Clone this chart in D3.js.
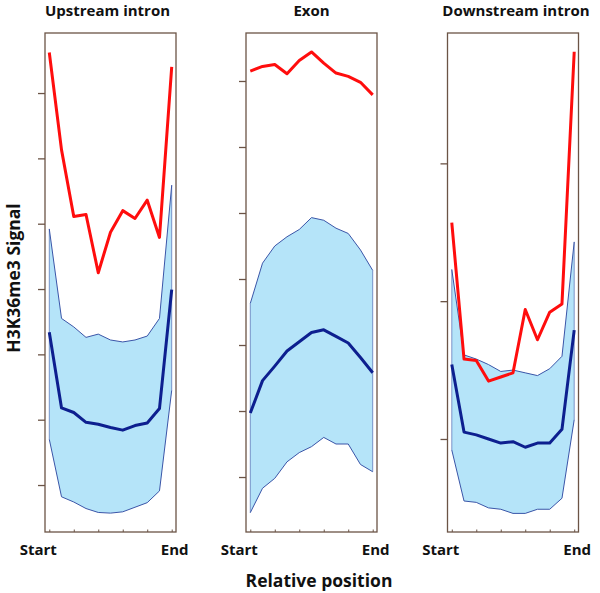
<!DOCTYPE html>
<html>
<head>
<meta charset="utf-8">
<script src="https://cdn.jsdelivr.net/npm/d3@7"></script>
<style>
  html, body { margin: 0; padding: 0; background: #fff; }
  svg { display: block; }
  text { font-family: "Open Sans", "Noto Sans", sans-serif; font-weight: bold; fill: #111; }
</style>
</head>
<body>
<svg id="chart" width="600" height="593"></svg>
<script>
// ---- data (values in arbitrary signal units; one tick = one unit) ----
const panelTitles = ["Upstream intron", "Exon", "Downstream intron"];
const positions = [0, 1, 2, 3, 4, 5, 6, 7, 8, 9, 10];
const xTickLabels = ["Start", "End"];

const upstreamRed   = [7.62, 6.13, 5.11, 5.14, 4.25, 4.87, 5.20, 5.08, 5.36, 4.79, 7.40];
const upstreamUpper = [4.92, 3.55, 3.42, 3.26, 3.31, 3.22, 3.19, 3.22, 3.28, 3.55, 5.59];
const upstreamMean  = [3.34, 2.18, 2.11, 1.96, 1.93, 1.88, 1.84, 1.91, 1.95, 2.17, 3.99];
const upstreamLower = [1.70, 0.82, 0.74, 0.64, 0.58, 0.57, 0.59, 0.66, 0.73, 0.91, 2.45];
const upstreamTicks = [1, 2, 3, 4, 5, 6, 7];

const exonRed   = [7.15, 7.22, 7.25, 7.11, 7.31, 7.44, 7.27, 7.12, 7.07, 6.98, 6.79];
const exonUpper = [3.63, 4.24, 4.50, 4.64, 4.75, 4.93, 4.89, 4.77, 4.69, 4.44, 4.13];
const exonMean  = [1.97, 2.46, 2.68, 2.91, 3.05, 3.19, 3.23, 3.13, 3.03, 2.81, 2.58];
const exonLower = [0.46, 0.83, 0.98, 1.23, 1.37, 1.46, 1.60, 1.50, 1.50, 1.19, 1.08];
const exonTicks = [1, 2, 3, 4, 5, 6, 7];

const downstreamRed   = [2.57, 1.58, 1.57, 1.42, 1.45, 1.48, 1.94, 1.72, 1.92, 1.98, 3.81];
const downstreamUpper = [2.23, 1.61, 1.58, 1.54, 1.49, 1.50, 1.48, 1.46, 1.51, 1.60, 2.43];
const downstreamMean  = [1.54, 1.05, 1.03, 1.00, 0.97, 0.98, 0.94, 0.97, 0.97, 1.07, 1.79];
const downstreamLower = [0.92, 0.55, 0.54, 0.50, 0.49, 0.46, 0.46, 0.49, 0.49, 0.57, 1.14];
const downstreamTicks = [1, 2, 3];

const yDomains = [[0.281, 7.919], [0.167, 7.727], [0.325, 3.946]];

const panels = [
  { title: panelTitles[0], red: upstreamRed, upper: upstreamUpper, mean: upstreamMean, lower: upstreamLower, ticks: upstreamTicks, yDomain: yDomains[0] },
  { title: panelTitles[1], red: exonRed, upper: exonUpper, mean: exonMean, lower: exonLower, ticks: exonTicks, yDomain: yDomains[1] },
  { title: panelTitles[2], red: downstreamRed, upper: downstreamUpper, mean: downstreamMean, lower: downstreamLower, ticks: downstreamTicks, yDomain: yDomains[2] }
];

// ---- layout ----
const boxLefts = [45, 246, 447.5];
const boxWidth = 131;
const boxTop = 33, boxBottom = 532;
const boxColor = "#6b5446";

const svg = d3.select("#chart");

panels.forEach((p, k) => {
  const x = d3.scaleLinear().domain([-0.35, 10.35]).range([boxLefts[k], boxLefts[k] + boxWidth]);
  const y = d3.scaleLinear().domain(p.yDomain).range([boxBottom, boxTop]);
  const g = svg.append("g");

  // band
  const area = d3.area()
    .x((d, i) => x(positions[i]))
    .y0((d, i) => y(p.lower[i]))
    .y1((d, i) => y(p.upper[i]));
  g.append("path").datum(p.upper).attr("d", area).attr("fill", "#b5e4f9");
  const line = arr => d3.line().x((d, i) => x(positions[i])).y(d => y(d))(arr);
  g.append("path").attr("d", line(p.upper)).attr("fill", "none").attr("stroke", "#3a55a8").attr("stroke-width", 1);
  g.append("path").attr("d", line(p.lower)).attr("fill", "none").attr("stroke", "#3a55a8").attr("stroke-width", 1);
  g.append("line").attr("x1", x(0)).attr("x2", x(0)).attr("y1", y(p.lower[0])).attr("y2", y(p.upper[0]))
    .attr("stroke", "#3a55a8").attr("stroke-width", 0.6);
  g.append("line").attr("x1", x(10)).attr("x2", x(10)).attr("y1", y(p.lower[10])).attr("y2", y(p.upper[10]))
    .attr("stroke", "#3a55a8").attr("stroke-width", 0.6);

  // mean
  g.append("path").attr("d", line(p.mean)).attr("fill", "none").attr("stroke", "#0d1f8f")
    .attr("stroke-width", 3).attr("stroke-linejoin", "round");
  // red
  g.append("path").attr("d", line(p.red)).attr("fill", "none").attr("stroke", "#ff0d0d")
    .attr("stroke-width", 3).attr("stroke-linejoin", "round");

  // box
  g.append("rect").attr("x", boxLefts[k]).attr("y", boxTop).attr("width", boxWidth).attr("height", boxBottom - boxTop)
    .attr("fill", "none").attr("stroke", boxColor).attr("stroke-width", 1.3);

  // y axis ticks (no labels)
  const yAxis = d3.axisLeft(y).tickValues(p.ticks).tickSize(7).tickFormat("");
  const ya = g.append("g").attr("transform", `translate(${boxLefts[k]},0)`).call(yAxis);
  ya.select(".domain").remove();
  ya.selectAll("line").attr("stroke", boxColor).attr("stroke-width", 1.3);

  // x axis small inner ticks
  const xAxis = d3.axisTop(x).tickValues([0, 2, 4, 6, 8, 10]).tickSize(2.5).tickFormat("");
  const xa = g.append("g").attr("transform", `translate(0,${boxBottom})`).call(xAxis);
  xa.select(".domain").remove();
  xa.selectAll("line").attr("stroke", boxColor).attr("stroke-width", 1);

  // Start / End labels
  g.append("text").attr("x", x(0) - 11).attr("y", 555).attr("text-anchor", "middle")
    .attr("font-size", 15).text(xTickLabels[0]);
  g.append("text").attr("x", x(10) + 3).attr("y", 555).attr("text-anchor", "middle")
    .attr("font-size", 15).text(xTickLabels[1]);

  // title
  g.append("text").attr("x", boxLefts[k] + boxWidth / 2 + (k === 0 ? -3 : (k === 2 ? 3 : 0))).attr("y", 16)
    .attr("text-anchor", "middle").attr("font-size", 15).text(p.title);
});

svg.append("text").attr("transform", "translate(20,278) rotate(-90)").attr("text-anchor", "middle")
  .attr("font-size", 17.5).text("H3K36me3 Signal");
svg.append("text").attr("x", 319).attr("y", 587).attr("text-anchor", "middle")
  .attr("font-size", 17.5).text("Relative position");
</script>
</body>
</html>
